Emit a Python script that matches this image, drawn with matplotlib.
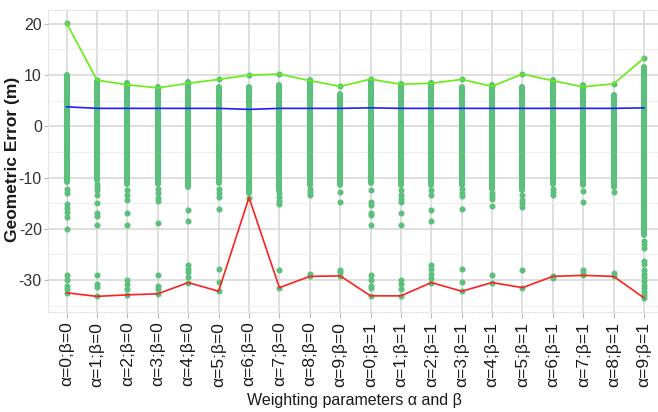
import matplotlib
matplotlib.use("Agg")
import matplotlib.pyplot as plt
from matplotlib.ticker import MultipleLocator

plt.rcParams['font.family'] = ['Liberation Sans', 'DejaVu Sans']
plt.rcParams['axes.unicode_minus'] = False

categories = [f"α={a};β={b}" for b in (0, 1) for a in range(10)]

max_vals = [20.1, 9.0, 8.1, 7.5, 8.4, 9.15, 10.0, 10.2, 8.9, 7.8,
            9.2, 8.2, 8.4, 9.15, 7.8, 10.2, 8.9, 7.7, 8.3, 13.3]
mean_vals = [3.8, 3.5, 3.5, 3.5, 3.5, 3.5, 3.3, 3.5, 3.5, 3.5,
             3.6, 3.5, 3.5, 3.5, 3.5, 3.5, 3.5, 3.5, 3.5, 3.6]
min_vals = [-32.5, -33.2, -32.9, -32.7, -30.5, -32.2, -13.9, -31.5, -29.3, -29.2,
            -33.1, -33.1, -30.5, -32.2, -30.5, -31.5, -29.3, -29.1, -29.3, -33.5]

# dense part of each point column (top, bottom)
dense_top = [10.0, 8.7, 8.5, 7.7, 8.7, 7.7, 7.7, 8.0, 9.0, 6.4,
             9.0, 8.3, 8.5, 7.7, 8.0, 7.7, 9.0, 8.0, 6.1, 11.6]
dense_bottom = [-10.8, -10.4, -11.2, -11.2, -11.8, -11.0, -13.1, -12.5, -11.5, -11.5,
                -11.0, -11.5, -11.5, -11.5, -12.2, -12.5, -11.2, -11.5, -11.8, -21.3]

# isolated points of each column
outliers = [
    [-12.2, -13.1, -15.1, -15.9, -16.7, -17.7, -20.1, -29.1, -30.1, -31.1, -31.7],
    [-11.2, -11.9, -12.5, -13.5, -15.0, -17.0, -17.5, -19.2, -29.1, -30.8, -31.4],
    [-12.5, -13.5, -14.3, -17.0, -19.2, -30.0, -30.8, -31.7],
    [-12.2, -13.1, -13.9, -14.6, -18.8, -29.1, -31.1, -31.7],
    [-16.4, -18.5, -27.0, -27.8, -28.5, -29.4],
    [-12.2, -13.1, -13.8, -16.1, -27.8, -30.4],
    [],
    [-13.1, -13.8, -14.5, -15.2, -28.0],
    [-12.2, -12.8, -13.5, -28.9],
    [-12.8, -14.8, -28.0, -28.5],
    [-12.5, -14.8, -15.4, -17.0, -17.4, -19.2, -29.1, -30.1, -31.1, -31.5],
    [-12.5, -13.5, -14.2, -14.8, -17.0, -19.2, -30.1, -30.8, -31.7],
    [-12.5, -13.5, -16.4, -18.5, -27.0, -27.9, -28.8, -29.6],
    [-12.2, -13.0, -13.7, -16.1, -27.8, -30.4],
    [-13.1, -13.6, -14.1, -15.6, -29.0],
    [-13.5, -14.3, -15.0, -15.7, -28.1],
    [-12.2, -12.8, -13.5, -29.6],
    [-12.6, -14.8, -28.1, -28.6],
    [-12.8, -28.6],
    [-22.3, -23.0, -23.8, -26.2, -26.9, -28.1, -28.8, -29.5, -30.2, -30.9, -31.6, -32.3, -33.0],
]

pt_color = '#5DBF7C'
fig = plt.figure(figsize=(6.58, 4.12), dpi=100)
ax = fig.add_axes([48 / 658, 1 - 312 / 412, 610 / 658, 302 / 412])

xs = list(range(len(categories)))
ax.vlines(xs, dense_bottom, dense_top, color=pt_color, linewidth=4.4,
          capstyle='round', zorder=2)
for i in xs:
    ys = outliers[i] + [max_vals[i], min_vals[i]]
    ax.scatter([i] * len(ys), ys, s=19, color=pt_color, linewidths=0, zorder=2)

ax.plot(xs, max_vals, color='#66EE11', linewidth=1.2, zorder=3)
ax.plot(xs, mean_vals, color='#1E1EFF', linewidth=1.2, zorder=3)
ax.plot(xs, min_vals, color='#FF2020', linewidth=1.2, zorder=3)

ax.set_xlim(-0.615, 19.46)
ax.set_ylim(-36.25, 22.7)
ax.set_xticks(xs)
ax.set_xticklabels(categories, rotation=90, fontsize=12.5, color='#1a1a1a')
ax.yaxis.set_major_locator(MultipleLocator(10))
ax.yaxis.set_minor_locator(MultipleLocator(5))
ax.tick_params(axis='y', length=3, color='#bbbbbb', pad=1.5, labelsize=11.5, labelcolor='#333333')
ax.tick_params(axis='y', which='minor', length=0)
ax.tick_params(axis='x', length=4, color='#bbbbbb', pad=3)
ax.grid(True, which='major', color='#d6d6d6', linewidth=1.1, zorder=0)
ax.grid(True, which='minor', axis='y', color='#efefef', linewidth=0.8, zorder=0)
ax.set_axisbelow(True)
for s in ax.spines.values():
    s.set_color('#e0e0e0')
    s.set_linestyle(':')
    s.set_linewidth(0.8)

fig.text(13 / 658, 1 - 159 / 412, 'Geometric Error (m)', rotation=90, ha='center', va='center',
         fontsize=12.5, fontweight='bold', color='#1a1a1a')
fig.text(354 / 658, 1 - 400 / 412, 'Weighting parameters α and β', ha='center', va='center',
         fontsize=11.5, color='#1a1a1a')

fig.savefig('out.png', dpi=100)
